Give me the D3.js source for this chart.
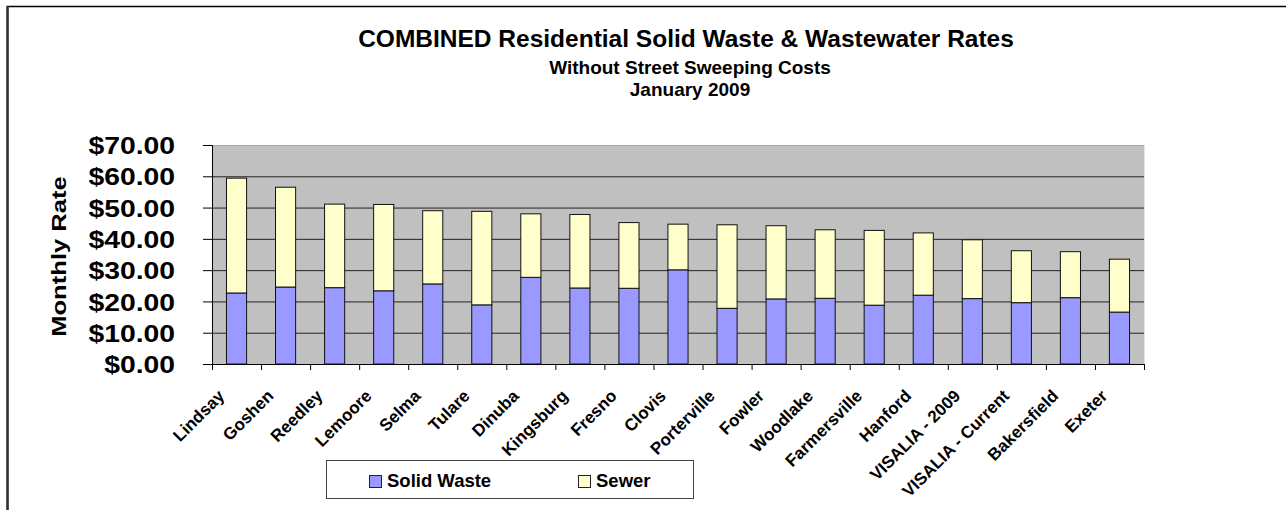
<!DOCTYPE html>
<html>
<head>
<meta charset="utf-8">
<script src="https://cdn.jsdelivr.net/npm/d3@7"></script>
<style>
  html, body { margin: 0; padding: 0; background: #fff; }
  svg { display: block; font-family: Arial, "Liberation Sans", sans-serif; font-weight: bold; }
</style>
</head>
<body>
<svg id="chart" width="1286" height="510"></svg>
<script>
// values
const cities = ["Lindsay", "Goshen", "Reedley", "Lemoore", "Selma", "Tulare", "Dinuba",
    "Kingsburg", "Fresno", "Clovis", "Porterville", "Fowler", "Woodlake", "Farmersville",
    "Hanford", "VISALIA - 2009", "VISALIA - Current", "Bakersfield", "Exeter"];
const solidWaste = [22.7, 24.6, 24.4, 23.4, 25.6, 18.9, 27.7, 24.3, 24.2, 30.1,
    17.8, 20.8, 21.0, 18.8, 22.0, 20.9, 19.6, 21.2, 16.6];
const sewer = [36.7, 31.9, 26.7, 27.6, 23.4, 29.9, 20.3, 23.5, 21.0, 14.6,
    26.7, 23.4, 21.9, 23.9, 19.9, 18.8, 16.6, 14.7, 16.9];
const seriesNames = ["Solid Waste", "Sewer"];
const seriesColors = ["#9999FF", "#FFFFCC"];
const yTicks = [0, 10, 20, 30, 40, 50, 60, 70];

const titleText = "COMBINED Residential Solid Waste & Wastewater Rates";
const subtitles = ["Without Street Sweeping Costs", "January 2009"];

const svg = d3.select("#chart");

// outer chart frame (runs off the right and bottom edges)
svg.append("rect")
    .attr("x", 7.5).attr("y", 6.5)
    .attr("width", 1300).attr("height", 600)
    .attr("fill", "#fff")
    .attr("stroke", "#000")
    .attr("stroke-width", 1.5);
svg.append("line")
    .attr("x1", 7.5).attr("x2", 7.5).attr("y1", 6).attr("y2", 510)
    .attr("stroke", "#333").attr("stroke-width", 2.5);

const plot = { left: 212, right: 1144, top: 145, bottom: 364 };

const rows = cities.map((c, i) => ({ city: c, "Solid Waste": solidWaste[i], "Sewer": sewer[i] }));
const stacked = d3.stack().keys(seriesNames)(rows);

const x = d3.scaleBand()
    .domain(cities)
    .range([plot.left, plot.right])
    .paddingInner(0.59)
    .paddingOuter(0.295);

// category boundaries for the tick marks
const xEdges = d3.scaleLinear().domain([0, cities.length]).range([plot.left, plot.right]);

const y = d3.scaleLinear().domain([0, 70]).range([plot.bottom, plot.top]);

// plot area
svg.append("rect")
    .attr("x", plot.left).attr("y", plot.top)
    .attr("width", plot.right - plot.left).attr("height", plot.bottom - plot.top)
    .attr("fill", "#C0C0C0");
svg.append("line")
    .attr("x1", plot.left).attr("x2", plot.right)
    .attr("y1", plot.top + 0.5).attr("y2", plot.top + 0.5)
    .attr("stroke", "#a6a6a6");
svg.append("line")
    .attr("x1", plot.right + 0.5).attr("x2", plot.right + 0.5)
    .attr("y1", plot.top).attr("y2", plot.bottom)
    .attr("stroke", "#e4e4e4");

// gridlines
svg.append("g")
    .attr("transform", `translate(${plot.left},0)`)
    .call(d3.axisLeft(y).tickValues(yTicks.filter(t => t > 0 && t < 70))
        .tickSize(-(plot.right - plot.left)).tickFormat(""))
    .call(g => g.select(".domain").remove())
    .call(g => g.selectAll(".tick line").attr("stroke", "#222").attr("stroke-width", 1));

// bars
svg.append("g")
    .selectAll("g")
    .data(stacked)
    .join("g")
    .attr("fill", (d, i) => seriesColors[i])
    .selectAll("rect")
    .data(d => d)
    .join("rect")
    .attr("x", d => x(d.data.city))
    .attr("y", d => y(d[1]))
    .attr("width", x.bandwidth())
    .attr("height", d => y(d[0]) - y(d[1]))
    .attr("stroke", "#111")
    .attr("stroke-width", 1);

// y axis
const yScaleX = 1.18;
svg.append("g")
    .attr("transform", `translate(${plot.left},0)`)
    .call(d3.axisLeft(y).tickValues(yTicks).tickSize(9).tickFormat(d => "$" + d3.format(".2f")(d)))
    .call(g => g.select(".domain").attr("stroke", "#000"))
    .call(g => g.selectAll(".tick line").attr("stroke", "#000"))
    .call(g => g.selectAll(".tick text")
        .attr("x", -37 / yScaleX)
        .attr("dy", "0.36em")
        .attr("transform", `scale(${yScaleX},1)`)
        .attr("fill", "#000")
        .style("font-size", "24px")
        .style("font-weight", "bold")
        .style("font-family", "Arial, 'Liberation Sans', sans-serif"));

// x axis: ticks on category boundaries
svg.append("g")
    .attr("transform", `translate(0,${plot.bottom})`)
    .call(d3.axisBottom(xEdges).tickValues(d3.range(cities.length + 1)).tickSize(6).tickFormat(""))
    .call(g => g.select(".domain").attr("stroke", "#000"))
    .call(g => g.selectAll(".tick line").attr("stroke", "#000"));

// rotated category labels
svg.append("g")
    .selectAll("text")
    .data(cities)
    .join("text")
    .attr("transform", d => `translate(${x(d) + x.bandwidth() / 2 - 11},${plot.bottom + 33}) rotate(-45)`)
    .attr("text-anchor", "end")
    .style("font-size", "17px")
    .text(d => d);

// axis title
svg.append("text")
    .attr("transform", `translate(66,${(plot.top + plot.bottom) / 2 + 2}) rotate(-90) scale(1.22,1)`)
    .attr("text-anchor", "middle")
    .style("font-size", "21px")
    .text("Monthly Rate");

// titles
svg.append("text")
    .attr("x", 686).attr("y", 47)
    .attr("text-anchor", "middle")
    .style("font-size", "24.5px")
    .text(titleText);
svg.selectAll("text.sub")
    .data(subtitles)
    .join("text")
    .attr("class", "sub")
    .attr("x", 690)
    .attr("y", (d, i) => 74 + i * 22)
    .attr("text-anchor", "middle")
    .style("font-size", "19px")
    .text(d => d);

// legend
const legend = svg.append("g").attr("transform", "translate(326,460)");
legend.append("rect")
    .attr("x", 0.5).attr("y", 0.5)
    .attr("width", 367).attr("height", 38)
    .attr("fill", "#fff")
    .attr("stroke", "#444");
const items = legend.selectAll("g")
    .data(seriesNames)
    .join("g")
    .attr("transform", (d, i) => `translate(${43 + i * 209},15)`);
items.append("rect")
    .attr("x", 0.5).attr("y", 0.5)
    .attr("width", 12).attr("height", 12)
    .attr("fill", (d, i) => seriesColors[i])
    .attr("stroke", "#222");
items.append("text")
    .attr("x", 18).attr("y", 12)
    .style("font-size", "18.5px")
    .text(d => d);
</script>
</body>
</html>
